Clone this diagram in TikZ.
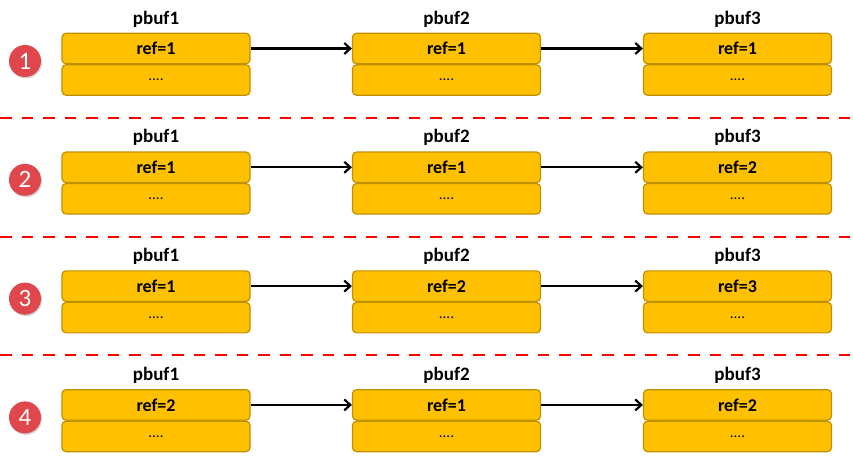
\documentclass[tikz,border=0pt]{standalone}
\usepackage{fontspec}
\setmainfont{Carlito}
\usetikzlibrary{arrows.meta,shadows}
\definecolor{boxfill}{HTML}{FFC000}
\definecolor{boxedge}{HTML}{BF9000}
\definecolor{badge}{HTML}{E0474C}
\tikzset{
  cell/.style={draw=boxedge, line width=1.2pt, fill=boxfill, rounded corners=4pt,
    minimum width=188pt, minimum height=30.5pt, inner sep=0pt,
    font=\fontsize{18}{20}\selectfont\bfseries, text=black},
  dotcell/.style={cell, font=\fontsize{15}{17}\selectfont},
  title/.style={font=\fontsize{19}{21}\selectfont\bfseries, text=black, inner sep=0pt},
  badgestyle/.style={circle, fill=badge, minimum size=32pt, inner sep=0pt, text=white,
    font=\fontsize{25}{27}\selectfont, drop shadow={shadow xshift=1pt, shadow yshift=-1.5pt, opacity=0.35}},
  link/.style={-{Straight Barb[length=6pt,width=11pt,line width=2.2pt]}, line width=2.2pt, black},
  sep/.style={draw=red, line width=2.6pt, dash pattern=on 11.5pt off 10pt}
}
\begin{document}
\begin{tikzpicture}[x=1pt,y=-1pt]
\useasboundingbox (0,0) rectangle (853,465);
\def\cola{156}
\def\colb{446.5}
\def\colc{737.5}
\newcommand{\pbufrow}[4]{%
  \pgfmathsetmacro{\ty}{33+118.8*(#1-1)}
  \node[badgestyle] (n#1) at (25,{\ty+28}) {#1};
  \node[title] (t#1a) at (\cola,{\ty-14}) {pbuf1};
  \node[title] (t#1b) at (\colb,{\ty-14}) {pbuf2};
  \node[title] (t#1c) at (\colc,{\ty-14}) {pbuf3};
  \node[cell] (r#1a) at (\cola,{\ty+15.5}) {ref=#2};
  \node[dotcell] (d#1a) at (\cola,{\ty+47}) {....};
  \node[cell] (r#1b) at (\colb,{\ty+15.5}) {ref=#3};
  \node[dotcell] (d#1b) at (\colb,{\ty+47}) {....};
  \node[cell] (r#1c) at (\colc,{\ty+15.5}) {ref=#4};
  \node[dotcell] (d#1c) at (\colc,{\ty+47}) {....};
  \draw[link] (r#1a.east) -- (r#1b.west);
  \draw[link] (r#1b.east) -- (r#1c.west);
}
\pbufrow{1}{1}{1}{1}
\pbufrow{2}{1}{1}{2}
\pbufrow{3}{1}{2}{3}
\pbufrow{4}{2}{1}{2}
\coordinate (s1l) at (0,118); \coordinate (s1r) at (853,118);
\coordinate (s2l) at (0,237); \coordinate (s2r) at (853,237);
\coordinate (s3l) at (0,355); \coordinate (s3r) at (853,355);
\draw[sep] (s1l) -- (s1r);
\draw[sep] (s2l) -- (s2r);
\draw[sep] (s3l) -- (s3r);
\end{tikzpicture}
\end{document}
